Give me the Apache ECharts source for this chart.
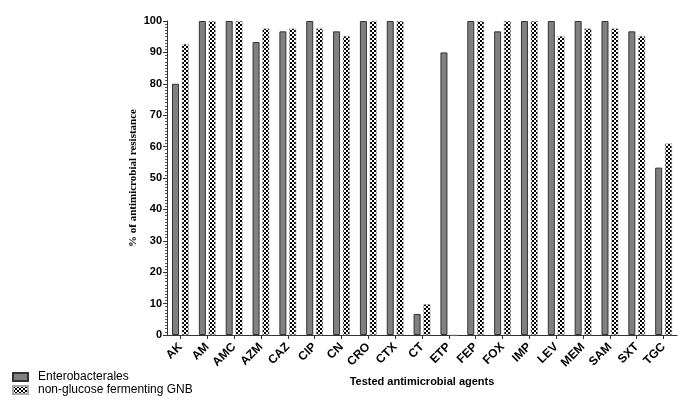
<!DOCTYPE html>
<html>
<head>
<meta charset="utf-8">
<script src="https://cdn.jsdelivr.net/npm/echarts@6/dist/echarts.min.js"></script>
<style>html,body{margin:0;padding:0;background:#fff}#c{width:685px;height:408px}</style>
</head>
<body>
<div id="c"></div>
<script>
var categories = ['AK','AM','AMC','AZM','CAZ','CIP','CN','CRO','CTX','CT','ETP','FEP','FOX','IMP','LEV','MEM','SAM','SXT','TGC'];
var enterobacterales = [80,100,100,93.3,96.7,100,96.7,100,100,6.7,90,100,96.7,100,100,100,100,96.7,53.3];
var nonGlucose = [92.7,100,100,97.6,97.6,97.6,95.2,100,100,9.8,0,100,100,100,95.2,97.6,97.6,95.2,61];
var yTicks = [0,10,20,30,40,50,60,70,80,90,100];
var yTitle = '% of antimicrobial resistance';
</script>
<script>
var pc = document.createElement('canvas');
pc.width = 4; pc.height = 4;
var g = pc.getContext('2d');
g.fillStyle = '#fff'; g.fillRect(0,0,4,4);
g.fillStyle = '#000'; g.fillRect(0,0,2,2); g.fillRect(2,2,2,2);

var font = 'Liberation Sans, Arial';
var chart = echarts.init(document.getElementById('c'), null, {renderer:'canvas'});
chart.setOption({
  animation:false,
  backgroundColor:'#fff',
  grid:{left:167,right:8,top:21,bottom:73},
  graphic:[{
    type:'text', x:133, y:178, rotation:Math.PI/2,
    style:{text:yTitle, fontFamily:'Liberation Serif, Times New Roman', fontWeight:'bold', fontSize:11, fill:'#000', align:'center', verticalAlign:'middle'}
  }],
  legend:{
    orient:'vertical', left:12, top:371, padding:0, itemWidth:15, itemHeight:8, itemGap:1,
    icon:'rect',
    textStyle:{fontFamily:font, fontSize:12, color:'#000', padding:[0,0,0,5]},
    data:['Enterobacterales','non-glucose fermenting GNB']
  },
  xAxis:{
    type:'category', data:categories,
    name:'Tested antimicrobial agents', nameLocation:'middle', nameGap:41,
    nameTextStyle:{fontFamily:font, fontWeight:'bold', fontSize:11, color:'#000'},
    axisLine:{lineStyle:{color:'#333', width:1}},
    axisTick:{show:true, alignWithLabel:true, length:4, lineStyle:{color:'#333'}},
    axisLabel:{rotate:45, interval:0, fontFamily:font, fontWeight:'bold', fontSize:12, color:'#000', margin:10}
  },
  yAxis:{
    type:'value', min:0, max:100, interval:10,
    axisLine:{show:true, lineStyle:{color:'#333', width:1}},
    axisTick:{show:true, length:4, lineStyle:{color:'#333'}},
    minorTick:{show:true, splitNumber:10, length:2, lineStyle:{color:'#555'}},
    splitLine:{show:false},
    axisLabel:{fontFamily:font, fontWeight:'bold', fontSize:11, color:'#000', margin:5}
  },
  series:[
    {name:'Enterobacterales', type:'bar', data:enterobacterales, barWidth:7, barGap:'40%',
     itemStyle:{color:'#808080', borderColor:'#333', borderWidth:1}},
    {name:'non-glucose fermenting GNB', type:'bar', data:nonGlucose, barWidth:7,
     itemStyle:{color:{image:pc, repeat:'repeat'}, borderColor:'#aaa', borderWidth:0.5}}
  ]
});
</script>
</body>
</html>
